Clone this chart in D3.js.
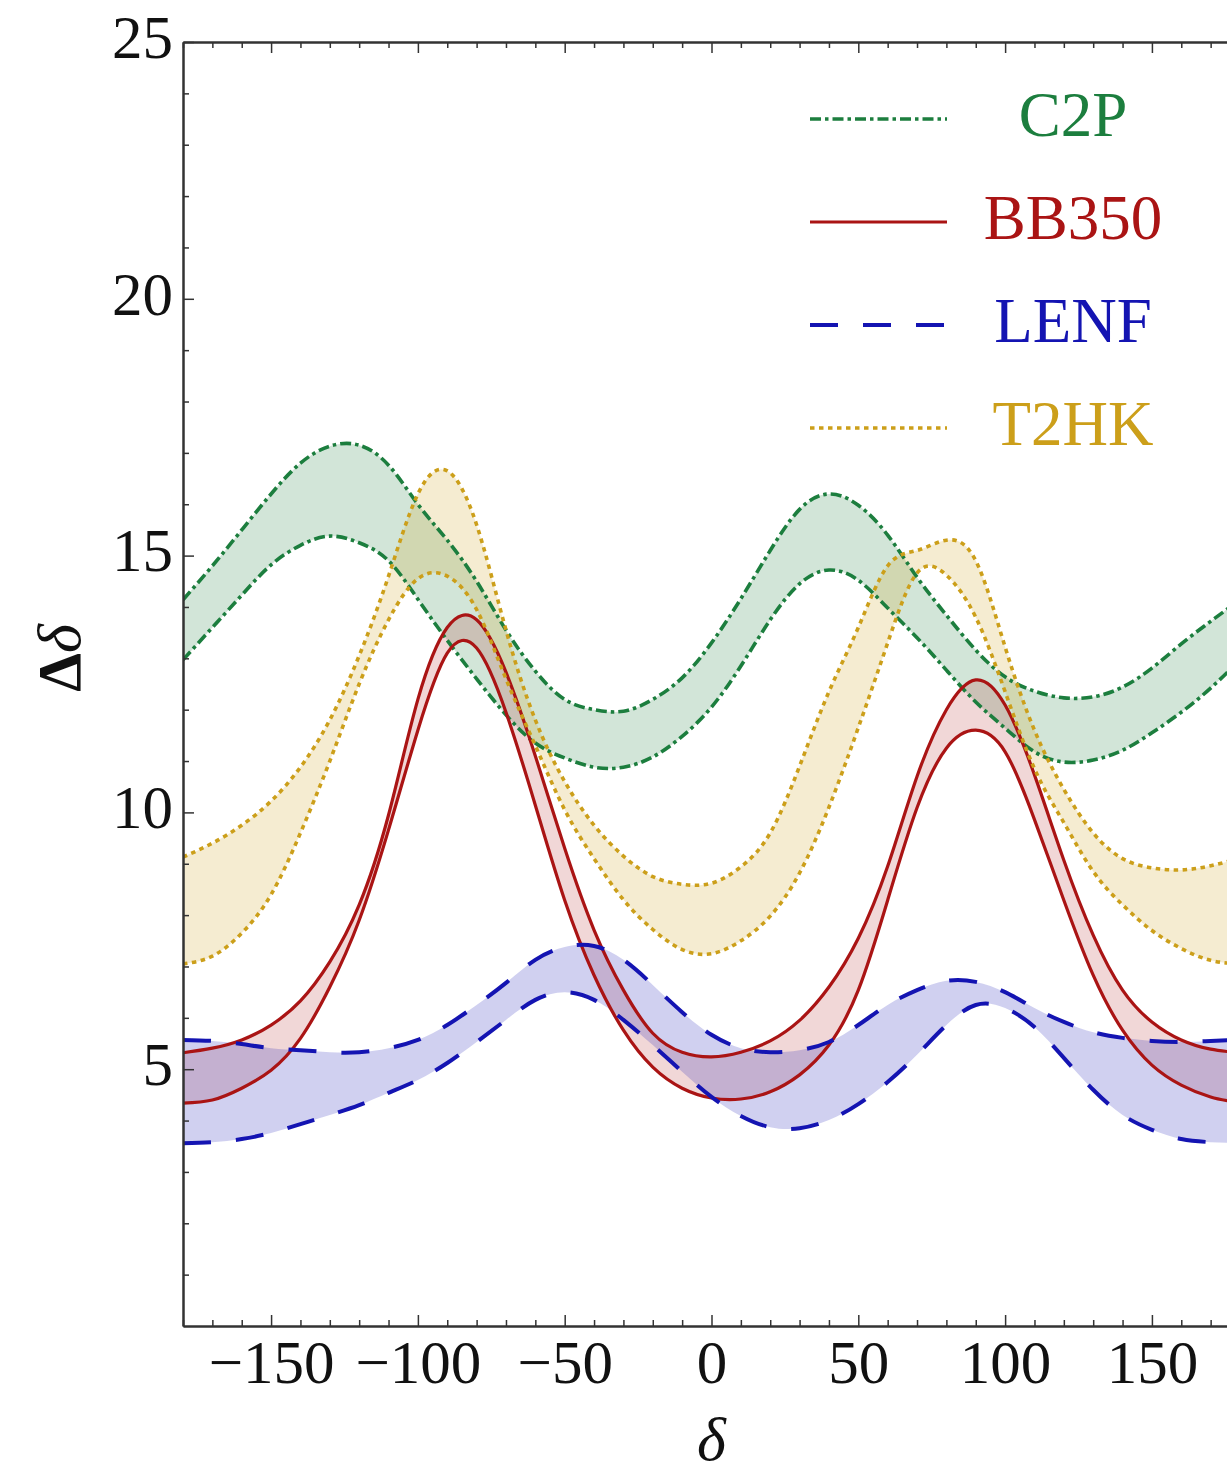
<!DOCTYPE html>
<html>
<head>
<meta charset="utf-8">
<script src="https://cdn.jsdelivr.net/npm/d3@7"></script>
<style>
  body { margin: 0; background: #fff; }
  text { font-family: "Liberation Serif", "DejaVu Serif", serif; }
</style>
</head>
<body>
<div id="chart"></div>
<script>
// delta grid (degrees)
var deltaGrid = [-180,-170,-160,-150,-140,-130,-120,-110,-100,-90,-80,-70,-60,-50,-40,-30,-20,-10,
                 0,10,20,30,40,50,60,70,80,90,100,110,120,130,140,150,160,170,180];

// band edges
var c2pHi  = [14.14,14.8,15.5,16.2,16.8,17.13,17.15,16.76,16.0,15.3,14.5,13.55,12.75,12.2,12.0,11.97,12.2,12.62,
              13.3,14.16,15.1,15.9,16.2,15.98,15.4,14.58,13.84,13.16,12.64,12.36,12.23,12.25,12.44,12.81,13.28,13.72,14.14];
var c2pLo  = [12.97,13.6,14.23,14.82,15.2,15.38,15.25,14.9,14.15,13.35,12.6,11.9,11.35,11.06,10.88,10.88,11.08,11.48,
              12.05,12.85,13.75,14.45,14.72,14.52,13.98,13.4,12.77,12.15,11.64,11.18,10.98,11.02,11.21,11.55,11.95,12.42,12.97];
var bb350Hi = [5.32,5.41,5.57,5.86,6.33,7.09,8.2,9.95,12.2,13.6,13.75,12.73,11.1,9.3,7.71,6.54,5.7,5.33,
               5.24,5.33,5.55,5.95,6.6,7.55,8.95,10.7,12.0,12.58,12.09,10.73,9.07,7.61,6.54,5.92,5.57,5.39,5.32];
var bb350Lo = [4.34,4.4,4.63,4.98,5.6,6.6,7.9,9.66,11.6,13.1,13.2,11.95,10.14,8.29,6.83,5.76,5.04,4.63,
               4.44,4.42,4.56,4.89,5.47,6.54,8.29,10.09,11.25,11.6,11.18,9.86,8.29,6.83,5.76,5.08,4.69,4.46,4.34];
var lenfHi = [5.57,5.55,5.49,5.41,5.37,5.33,5.33,5.41,5.57,5.86,6.25,6.68,7.13,7.38,7.4,7.13,6.64,6.11,
              5.67,5.41,5.33,5.37,5.53,5.86,6.25,6.54,6.72,6.7,6.5,6.19,5.92,5.72,5.61,5.55,5.53,5.55,5.57];
var lenfLo = [3.56,3.58,3.64,3.76,3.93,4.11,4.3,4.54,4.79,5.12,5.53,5.96,6.35,6.5,6.35,5.96,5.47,4.95,
              4.46,4.09,3.87,3.85,4.01,4.32,4.75,5.28,5.86,6.25,6.19,5.82,5.22,4.6,4.11,3.82,3.64,3.58,3.56];
var t2hkHi = [9.13,9.4,9.75,10.22,10.88,11.8,13.05,14.6,16.2,16.65,15.6,13.55,11.8,10.6,9.75,9.15,8.75,8.6,
              8.62,8.94,9.6,10.9,12.35,13.6,14.8,15.1,15.3,14.9,13.22,11.6,10.45,9.6,9.1,8.92,8.88,8.96,9.11];
var t2hkLo = [7.05,7.2,7.65,8.4,9.6,11.0,12.5,13.75,14.55,14.6,13.95,12.6,11.3,10.05,9.1,8.3,7.72,7.33,
              7.25,7.5,7.98,8.82,10.1,11.65,13.3,14.66,14.62,13.8,12.35,10.85,9.8,8.85,8.2,7.7,7.35,7.12,7.05];

var seriesNames = ["C2P", "BB350", "LENF", "T2HK"];
var xTicks = [-150,-100,-50,0,50,100,150];
var yTicks = [5,10,15,20,25];

var series = [
  {name: "C2P",   hi: c2pHi,   lo: c2pLo,   color: "#1c7e3e", dash: "11,4,3.5,4", w: 3.6},
  {name: "BB350", hi: bb350Hi, lo: bb350Lo, color: "#aa1414", dash: null,         w: 3.2},
  {name: "LENF",  hi: lenfHi,  lo: lenfLo,  color: "#1414b2", dash: "28,25",      w: 4},
  {name: "T2HK",  hi: t2hkHi,  lo: t2hkLo,  color: "#cc9f1a", dash: "4.5,4.5",    w: 3.6}
];

var W = 1227, H = 1478;
var pLeft = 183, pRight = 1240, pTop = 42, pBottom = 1326;

var svg = d3.select("#chart").append("svg")
    .attr("width", W).attr("height", H);

var x = d3.scaleLinear().domain([-180, 180]).range([pLeft, pRight]);
var y = d3.scaleLinear().domain([0, 25]).range([pBottom, pTop]);

svg.append("clipPath").attr("id", "clip")
  .append("rect").attr("x", pLeft).attr("y", pTop)
  .attr("width", pRight - pLeft).attr("height", pBottom - pTop);

var plot = svg.append("g").attr("clip-path", "url(#clip)");

var curve = d3.curveNatural;

// fills first
series.forEach(function(s){
  var area = d3.area()
      .x(function(d, i){ return x(deltaGrid[i]); })
      .y0(function(d, i){ return y(s.lo[i]); })
      .y1(function(d, i){ return y(s.hi[i]); })
      .curve(curve);
  plot.append("path")
      .datum(deltaGrid)
      .attr("fill", s.color)
      .attr("fill-opacity", s.name == "BB350" ? 0.17 : 0.2)
      .attr("d", area);
});

// then the edge lines
series.forEach(function(s){
  [s.hi, s.lo].forEach(function(arr){
    plot.append("path")
        .datum(arr)
        .attr("fill", "none")
        .attr("stroke", s.color)
        .attr("stroke-width", s.w)
        .attr("stroke-dasharray", s.dash)
        .attr("d", d3.line()
            .x(function(d, i){ return x(deltaGrid[i]); })
            .y(function(d){ return y(d); })
            .curve(curve));
  });
});

// frame + ticks (inward, Mathematica style)
var axisColor = "#333";
function styleAxis(g){
  g.select(".domain").attr("stroke", axisColor).attr("stroke-width", 2);
  g.selectAll(".tick line").attr("stroke", axisColor).attr("stroke-width", 1.5);
}
var minorX = d3.range(-180, 181, 10).filter(function(v){ return v % 50 != 0; });
var minorY = d3.range(0, 26, 1).filter(function(v){ return v % 5 != 0; });

// bottom
var xAxis = svg.append("g").attr("transform", "translate(0," + pBottom + ")")
    .call(d3.axisBottom(x).tickValues(xTicks).tickSize(-11).tickSizeOuter(0)
      .tickFormat(function(d){ return d < 0 ? "\u2212" + Math.abs(d) : d; }))
    .call(styleAxis);
xAxis.selectAll("text")
    .attr("y", 57).attr("dy", null)
    .attr("font-family", "Liberation Serif").attr("font-size", 61).attr("fill", "#111");
svg.append("g").attr("transform", "translate(0," + pBottom + ")")
    .call(d3.axisBottom(x).tickValues(minorX).tickSize(-6).tickSizeOuter(0).tickFormat(""))
    .call(styleAxis);

// top
svg.append("g").attr("transform", "translate(0," + pTop + ")")
    .call(d3.axisTop(x).tickValues(xTicks).tickSize(-11).tickSizeOuter(0).tickFormat(""))
    .call(styleAxis);
svg.append("g").attr("transform", "translate(0," + pTop + ")")
    .call(d3.axisTop(x).tickValues(minorX).tickSize(-6).tickSizeOuter(0).tickFormat(""))
    .call(styleAxis);

// left
var yAxis = svg.append("g").attr("transform", "translate(" + pLeft + ",0)")
    .call(d3.axisLeft(y).tickValues(yTicks).tickSize(-11).tickSizeOuter(0).tickPadding(10))
    .call(styleAxis);
yAxis.selectAll("text")
    .attr("dy", "0.25em")
    .attr("font-family", "Liberation Serif").attr("font-size", 61).attr("fill", "#111");
svg.append("g").attr("transform", "translate(" + pLeft + ",0)")
    .call(d3.axisLeft(y).tickValues(minorY).tickSize(-6).tickSizeOuter(0).tickFormat(""))
    .call(styleAxis);

// right (falls just outside the window)
svg.append("g").attr("transform", "translate(" + pRight + ",0)")
    .call(d3.axisRight(y).tickValues(yTicks).tickSize(-11).tickSizeOuter(0).tickFormat(""))
    .call(styleAxis);

// axis titles
svg.append("text")
    .attr("transform", "translate(80," + 658 + ") rotate(-90)")
    .attr("text-anchor", "middle")
    .attr("font-size", 62)
    .attr("fill", "#111")
    .call(function(t){
      t.append("tspan").attr("font-weight", "bold").text("\u0394");
      t.append("tspan").attr("font-style", "italic").text("\u03b4");
    });

svg.append("text")
    .attr("x", x(0)).attr("y", 1460)
    .attr("text-anchor", "middle")
    .attr("font-size", 62)
    .attr("font-style", "italic")
    .attr("fill", "#111")
    .text("\u03b4");

// legend
var legY = [119, 222, 325, 428];
var legend = svg.append("g");
series.forEach(function(s, i){
  legend.append("line")
      .attr("x1", 810).attr("x2", 947)
      .attr("y1", legY[i]).attr("y2", legY[i])
      .attr("stroke", s.color)
      .attr("stroke-width", s.w)
      .attr("stroke-dasharray", s.dash);
  legend.append("text")
      .attr("x", 1073).attr("y", legY[i] + 17)
      .attr("text-anchor", "middle")
      .attr("font-size", 63)
      .attr("fill", s.color)
      .text(seriesNames[i]);
});
</script>
</body>
</html>
